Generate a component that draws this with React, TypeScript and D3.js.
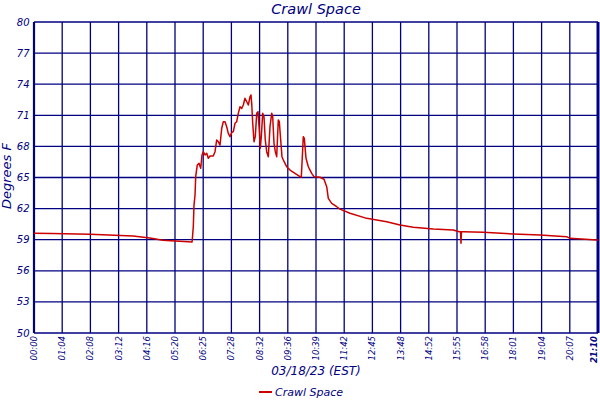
import React, { useEffect } from 'react';
import * as d3 from 'd3';

// minutes after midnight, 03/18/23
const minutes = [
  0, 40, 126, 223, 261, 290, 356, 358.7, 360.3, 362.6, 364.1, 367.7, 371.5, 375.4, 378.3, 381.2,
  385.1, 388.9, 392.5, 396.3, 403.7, 407.6, 411.4, 415, 418.8, 422.7, 426.3, 430.1, 433.9, 437.5,
  441.3, 445.2, 448.8, 452.6, 456.4, 460, 463.9, 467.7, 471.3, 475.1, 479, 482.6, 486.4, 488.6,
  490.2, 492.5, 495.4, 498.3, 501.5, 504.4, 507.3, 509.6, 511.8, 515, 517.9, 520.8, 524, 527.6,
  531.4, 535.3, 537.5, 540.4, 543.4, 546.5, 550.1, 552.4, 555.5, 558.4, 561.4, 565.2, 569, 576.5,
  587.7, 599, 601.9, 604.2, 606.4, 608.7, 612.5, 617.7, 625.3, 630.5, 644, 653, 659.1, 662.7,
  670.4, 681.6, 689, 711.6, 749.2, 794.2, 824.2, 854.1, 899.1, 944.2, 951.8, 957.7, 960.5, 961.5,
  962.5, 966.7, 1011.7, 1079.3, 1139.4, 1199.5, 1206.9, 1267.1, 1270,
];

const tempsF = [
  59.62, 59.6, 59.52, 59.36, 59.16, 58.94, 58.78, 60.25, 62.35, 63.31, 65.08, 66.21, 66.37, 65.89, 67.17, 67.49,
  67.17, 67.33, 66.85, 67.07, 67.07, 67.49, 68.62, 68.45, 68.13, 69.75, 70.38, 70.38, 69.9, 69.26,
  68.94, 69.32, 69.42, 70.23, 70.38, 71.19, 71.83, 71.67, 71.99, 72.64, 72.31, 71.99, 72.79, 72.96,
  72.16, 70.23, 68.45, 68.94, 71.19, 71.35, 69.58, 67.82, 68.94, 71.19, 70.86, 68.62, 67.49, 67.01,
  69.9, 71.19, 70.86, 68.3, 67.49, 67.01, 70.55, 70.38, 68.62, 67.01, 66.69, 66.37, 66.04, 65.72,
  65.4, 65.08, 65.02, 67.01, 68.94, 68.78, 66.85, 66.04, 65.4, 65.08, 65.02, 64.83, 64.11, 62.99,
  62.51, 62.18, 61.95, 61.55, 61.06, 60.74, 60.42, 60.2, 60.03, 59.94, 59.84, 59.77, 59.77, 58.65,
  59.77, 59.77, 59.71, 59.55, 59.45, 59.29, 59.13, 58.97, 58.97,
];

const timeLabels = [
  '00:00', '01:04', '02:08', '03:12', '04:16', '05:20', '06:25', '07:28', '08:32', '09:36', '10:39',
  '11:42', '12:45', '13:48', '14:52', '15:55', '16:58', '18:01', '19:04', '20:07', '21:10',
];

const yTicks = [50, 53, 56, 59, 62, 65, 68, 71, 74, 77, 80];

const NAVY = '#000080';
const RED = '#cc0000';
const FONT = '"DejaVu Sans", Verdana, sans-serif';

export default function App() {
  useEffect(() => {
    document.body.style.margin = '0';
  }, []);

  const left = 34, right = 598, top = 22, bottom = 333;
  const endMin = minutes[minutes.length - 1];

  const x = d3.scaleLinear().domain([0, endMin]).range([left, right]);
  const y = d3.scaleLinear().domain([50, 80]).range([bottom, top]);

  const xTicks = timeLabels.map((_, i) => (i * endMin) / (timeLabels.length - 1));

  const line = d3.line<number>()
    .x((_, i) => x(minutes[i]))
    .y(d => y(d));

  return (
    <svg width={600} height={400} style={{ display: 'block', background: '#fff', fontFamily: FONT }}>
      {/* grid */}
      {yTicks.map(t => (
        <line key={'h' + t} x1={left} x2={right} y1={y(t)} y2={y(t)} stroke={NAVY} strokeWidth={1.3} />
      ))}
      {xTicks.map((t, i) => (
        <line key={'v' + i} x1={x(t)} x2={x(t)} y1={top} y2={bottom} stroke={NAVY} strokeWidth={1.3} />
      ))}
      <line x1={left} x2={left} y1={top} y2={bottom} stroke={NAVY} strokeWidth={2.2} />
      <line x1={right} x2={right} y1={top} y2={bottom} stroke={NAVY} strokeWidth={3} />

      {/* data */}
      <path d={line(tempsF) || ''} fill="none" stroke={RED} strokeWidth={1.5} strokeLinejoin="round" />

      {/* y tick labels */}
      {yTicks.map(t => (
        <text key={'yl' + t} x={29.5} y={y(t)} dy="0.35em" textAnchor="end" fontSize={10}
          fontStyle="italic" fill={NAVY}>{t}</text>
      ))}

      {/* x tick labels */}
      {xTicks.map((t, i) => {
        const last = i === xTicks.length - 1;
        const px = last ? x(t) - 4 : x(t);
        return (
          <text key={'xl' + i} transform={`translate(${px},${bottom + 3}) rotate(-90)`} dy="0.35em"
            textAnchor="end" fontSize={8.5} fontStyle="italic" fill={NAVY}
            fontWeight={last ? 'bold' : 'normal'}>{timeLabels[i]}</text>
        );
      })}

      {/* titles */}
      <text x={(left + right) / 2} y={13.5} textAnchor="middle" fontSize={14.5} fontStyle="italic" fill={NAVY}>
        Crawl Space
      </text>
      <text transform={`translate(11,${176}) rotate(-90)`} textAnchor="middle" fontSize={13}
        fontStyle="italic" fill={NAVY}>Degrees F</text>
      <text x={(left + right) / 2} y={375} textAnchor="middle" fontSize={12} fontStyle="italic" fill={NAVY}>
        03/18/23 (EST)
      </text>

      {/* legend */}
      <line x1={259} x2={272} y1={392} y2={392} stroke={RED} strokeWidth={2} />
      <text x={275} y={395.5} fontSize={11} fontStyle="italic" fill={NAVY}>Crawl Space</text>
    </svg>
  );
}
